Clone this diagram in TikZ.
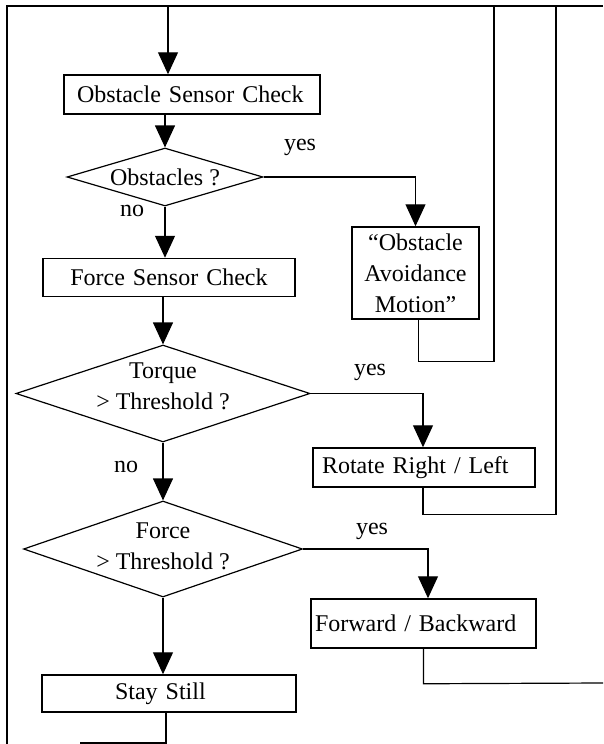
\documentclass[tikz,border=0pt]{standalone}
\usepackage{fontspec}
\setmainfont{Liberation Serif}
\usetikzlibrary{arrows.meta,shapes.geometric}
\tikzset{
  box/.style={draw, line width=1.5pt, inner ysep=0pt},
  dia/.style={draw, diamond, line width=1.2pt, inner sep=0pt},
  conn/.style={line width=1.2pt},
  arr/.style={conn, -{Triangle[width=20pt,length=22pt]}},
  lbl/.style={inner sep=0pt},
}
\begin{document}
\begin{tikzpicture}[x=1pt, y=-1pt, font=\fontsize{24}{31}\selectfont]
\useasboundingbox (0,0) rectangle (603,744);

% process boxes
\node[box, minimum width=256pt, minimum height=39pt, inner xsep=13pt, text width=230pt, align=left] (osc) at (192,94.5) {Obstacle Sensor Check};
\node[box, minimum width=252pt, minimum height=38pt, inner xsep=10pt, text width=232pt, align=center] (fsc) at (169,277.5) {Force Sensor Check};
\node[box, minimum width=127pt, minimum height=92pt, inner xsep=5pt, text width=117pt, align=center] (oam) at (415.5,273) {``Obstacle\\Avoidance\\Motion''};
\node[box, minimum width=222pt, minimum height=39pt, inner xsep=9pt, text width=204pt, align=left] (rot) at (424,467.5) {Rotate Right / Left};
\node[box, minimum width=225pt, minimum height=49pt, inner xsep=4pt, text width=217pt, align=left] (fwd) at (423.5,623.5) {Forward / Backward};
\node[box, minimum width=254pt, minimum height=37pt, inner xsep=73pt, text width=108pt, align=left] (stay) at (169,693.5) {Stay Still};

% decisions
\node[dia, minimum width=196pt, minimum height=58pt, label={[align=center]center:Obstacles ?}] (d1) at (165,177) {};
\node[dia, minimum width=294pt, minimum height=97pt, label={[align=center, yshift=7pt]center:Torque\\> Threshold ?}] (d2) at (163,393.5) {};
\node[dia, minimum width=279pt, minimum height=96pt, label={[align=center, yshift=3pt]center:Force\\> Threshold ?}] (d3) at (163,549) {};

% branch labels
\node[lbl] (yes1) at (300,147) {yes};
\node[lbl] (no1) at (132,211) {no};
\node[lbl] (yes2) at (370,372) {yes};
\node[lbl] (no2) at (126,467) {no};
\node[lbl] (yes3) at (372,531) {yes};

% loop-back frame points
\coordinate (lb) at (7,744);
\coordinate (lt) at (7,6);
\coordinate (tr) at (603,6);
\coordinate (top) at (168,6);
\coordinate (r1) at (494,6);
\coordinate (r2) at (556,6);
\coordinate (rr) at (603,683);
\coordinate (bl) at (80,743);

% frame: left side and top line
\draw[conn] (lb) -- (lt) -- (tr);
\draw[arr] (top) -- (top |- osc.north);

% main column
\draw[arr] (osc.south -| d1.north) -- (d1.north);
\draw[arr] (d1.south) -- (d1.south |- fsc.north);
\draw[arr] (fsc.south -| d2.north) -- (d2.north);
\draw[arr] (d2.south) -- (d3.north);
\draw[arr] (d3.south) -- (d3.south |- stay.north);
\draw[conn] ([xshift=-3pt]stay.south) |- (bl);

% yes branches
\draw[arr] (d1.east) -| (oam.north);
\draw[conn] ([xshift=3pt]oam.south) -- ++(0,42) -| (r1);
\draw[arr] (d2.east) -| ([xshift=-1pt]rot.north);
\draw[conn] ([xshift=-1pt]rot.south) -- ++(0,27) -| (r2);
\draw[arr] (d3.east) -| ([xshift=4.5pt]fwd.north);
\draw[conn] (fwd.south) -- ++(0,35) -- (rr);
\end{tikzpicture}
\end{document}
